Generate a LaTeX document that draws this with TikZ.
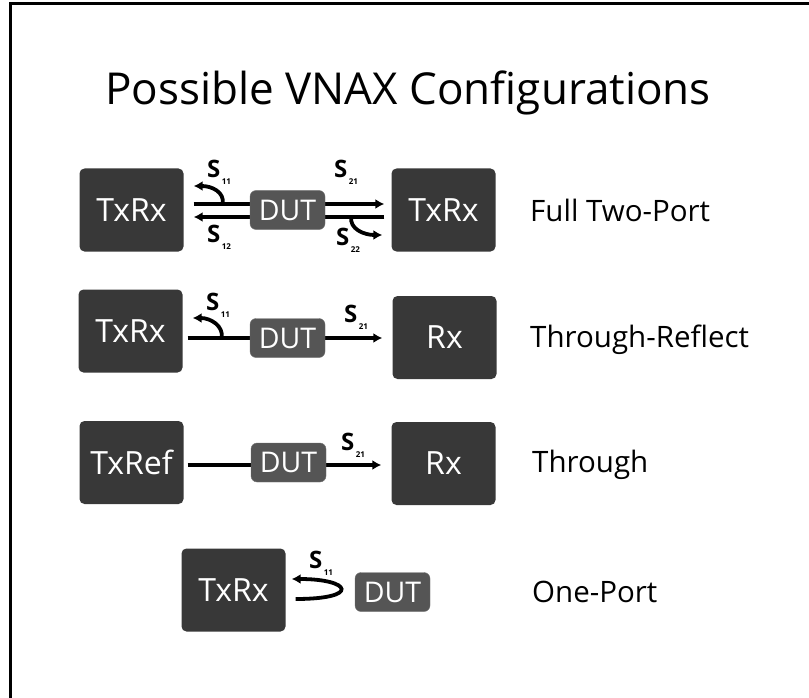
\documentclass[tikz,border=0pt]{standalone}
\usepackage{fontspec}
\setmainfont{Open Sans}
\usetikzlibrary{arrows.meta}
\definecolor{boxgray}{HTML}{383838}
\definecolor{dutgray}{HTML}{555555}
\newcommand{\spar}[1]{S\kern1.5pt\raisebox{-7pt}{\fontsize{8}{8}\selectfont #1}}
\tikzset{
  unit/.style={fill=boxgray, rounded corners=5pt, text=white, font=\fontsize{32}{32}\selectfont, minimum width=104pt, minimum height=83pt, inner sep=0pt},
  dutbox/.style={fill=dutgray, draw=black!55, rounded corners=6pt, text=white, font=\fontsize{28.5}{28.5}\selectfont, minimum width=75pt, minimum height=39pt, inner sep=0pt},
  cfg/.style={anchor=base west, inner sep=0pt, font=\fontsize{29.5}{29.5}\selectfont},
  sname/.style={anchor=base west, inner sep=0pt, font=\fontsize{24}{24}\selectfont\bfseries},
  wire/.style={line width=3.8pt},
  sig/.style={wire, -{Latex[length=9pt,width=10pt]}}
}
\begin{document}
\begin{tikzpicture}[x=1pt,y=-1pt]
  \useasboundingbox (0,0) rectangle (809,698);
  \draw[line width=3pt] (10,698) -- (10,3.5) -- (809,3.5);
  \node[anchor=base west, inner sep=0pt, font=\fontsize{44}{44}\selectfont] (title) at (105,105) {Possible VNAX Configurations};

  \node[unit] (txa) at (131.5,210) {TxRx}; \node[unit] (rxa) at (443.5,210) {TxRx};
  \draw[sig] ([xshift=10pt,yshift=6pt]txa.east) -- ([xshift=-7pt,yshift=6pt]rxa.west);
  \draw[sig] ([xshift=-7pt,yshift=-7pt]rxa.west) -- ([xshift=10pt,yshift=-7pt]txa.east);
  \draw[sig] ([xshift=39pt,yshift=6pt]txa.east) .. controls +(2,-12) and +(18,0) .. ([xshift=10pt,yshift=24pt]txa.east);
  \draw[sig] ([xshift=-40pt,yshift=-7pt]rxa.west) .. controls +(-2,12) and +(-18,0) .. ([xshift=-9pt,yshift=-25pt]rxa.west);
  \node[dutbox] (duta) at (287.5,210) {DUT};
  \node[sname] (s11a) at (207,178) {\spar{11}}; \node[sname] (s21a) at (334,178) {\spar{21}};
  \node[sname] (s12a) at (207,242) {\spar{12}}; \node[sname] (s22a) at (336,245) {\spar{22}};
  \node[cfg] (cfga) at (530,222) {Full Two-Port};

  \node[unit] (txb) at (130.5,331) {TxRx}; \node[unit] (rxb) at (444.5,337.5) {Rx};
  \draw[sig] ([xshift=5pt,yshift=-7pt]txb.east) -- ([xshift=-10pt,yshift=-0.5pt]rxb.west);
  \draw[sig] ([xshift=39pt,yshift=-7pt]txb.east) .. controls +(2,-12) and +(18,0) .. ([xshift=10pt,yshift=13pt]txb.east);
  \node[dutbox] (dutb) at (287.5,338) {DUT};
  \node[sname] (s11b) at (206,310) {\spar{11}}; \node[sname] (s21b) at (344,322) {\spar{21}};
  \node[cfg] (cfgb) at (530,347) {Through-Reflect};

  \node[unit] (txc) at (131.5,462.5) {TxRef}; \node[unit] (rxc) at (443.5,463.5) {Rx};
  \draw[sig] ([xshift=4pt,yshift=-2.5pt]txc.east) -- ([xshift=-10pt,yshift=-1.5pt]rxc.west);
  \node[dutbox] (dutc) at (288.5,462.5) {DUT};
  \node[sname] (s21c) at (341,450) {\spar{21}};
  \node[cfg] (cfgc) at (532,472) {Through};

  \node[unit] (txd) at (233.5,590) {TxRx}; \node[dutbox] (dutd) at (392.5,592) {DUT};
  \draw[sig] ([xshift=10pt,yshift=-9pt]txd.east) .. controls +(65,0) and +(60,0) .. ([xshift=6pt,yshift=11pt]txd.east);
  \node[sname] (s11d) at (309,568) {\spar{11}};
  \node[cfg] (cfgd) at (532,602) {One-Port};
\end{tikzpicture}
\end{document}
